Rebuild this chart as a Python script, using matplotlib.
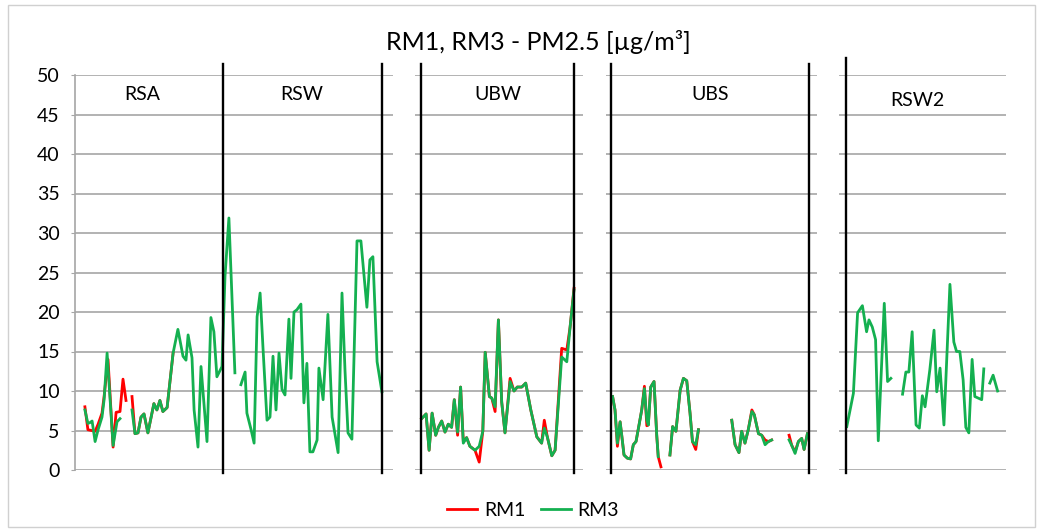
#!/usr/bin/env python3
"""RM1 / RM3 PM2.5 time series across five measurement periods."""

import numpy as np
import matplotlib
matplotlib.use("Agg")
import matplotlib.pyplot as plt
from matplotlib.patches import Rectangle

nan = np.nan

TITLE = "RM1, RM3 - PM2.5 [µg/m³]"
Y_TICKS = [0, 5, 10, 15, 20, 25, 30, 35, 40, 45, 50]

# --- panel 1: RSA + RSW -------------------------------------------------
P1_DAYS = [3.3, 4.3, 5, 5.7, 6.7, 7.7, 9, 9.7, 10.7, 12.7, 14, 15, 17,
           19, 20, 21, 22, 23, 24.3, 26.3, 27.3, 28.3, 29.3, 30.7, 32.7,
           34.3, 36, 37, 37.7, 39, 39.7, 41, 42, 44, 45.3, 46.3, 47.3, 49,
           50, 51.3, 53.3, 54.3,
           55.3, 56.7, 57.3, 58.7, 59.7, 60.7, 61.7, 62.7, 64, 65, 66, 67,
           68, 69, 70, 71.3, 72, 73, 74, 75.3, 76.3, 77.3, 78.3, 79.3, 80.7,
           81.3, 82.7, 84.3, 85.7, 87.7, 89, 90, 91, 92.3, 94, 95.3, 97.3,
           98.3, 99.3, 100.7, 102.3]
P1_RM3 = [7.6, 5.9, 6.0, 6.2, 3.6, 5.1, 6.7, 8.9, 14.8, 3.1, 6.1, 6.5, nan,
          7.6, 4.6, 4.7, 6.7, 7.1, 4.7, 8.4, 7.6, 8.8, 7.4, 7.9, 14.8,
          17.8, 14.4, 13.9, 17.1, 14.2, 7.6, 2.9, 13.1, 3.6, 19.3, 17.5, 11.8, 13.1,
          24.5, 31.9, 12.3, nan,
          10.8, 12.4, 7.2, 5.1, 3.4, 19.4, 22.4, 15.2, 6.3, 6.7, 14.4, 7.6,
          14.8, 10.2, 9.5, 19.1, 11.6, 20.0, 20.3, 21.0, 8.5, 13.5, 2.3, 2.3, 3.8,
          12.9, 8.9, 19.7, 6.7, 2.2, 22.4, 12.6, 4.7, 3.9, 29.0, 29.0, 20.6,
          26.6, 27.0, 13.7, 9.9]
P1_RM1_DAYS = [3.3, 4.3, 6.7, 7.7, 9, 9.7, 11, 12.7, 13.7, 15, 16, 17, 18,
               19, 20, 21, 22, 23, 24.3, 26.3, 27.3, 28.3, 29.3, 30.7, 32.7]
P1_RM1 = [8.0, 5.1, 4.9, 5.8, 7.2, 9.3, 14.0, 2.9, 7.3, 7.4, 11.5, 8.8, nan,
          9.3, 4.6, 4.7, 6.7, 7.1, 4.7, 8.4, 7.6, 8.8, 7.4, 7.9, 14.8]

# --- panel 2: UBW -------------------------------------------------------
P2_DAYS = [2.2, 3.7, 4.7, 5.7, 6.9, 7.8, 8.9, 10, 11.1, 12.2, 13.1, 14.2,
           15.2, 16.1, 17.2, 18.3, 20, 21.4, 22.6, 23.4, 24.8, 25.6, 26.7,
           27.8, 28.9, 30, 31.7, 33, 34.1, 35.6, 36.9, 38.6, 40.6, 42.2,
           43.1, 44.1, 45.6, 46.7, 48.9, 50.6, 51.7, 53]
P2_RM3 = [6.5, 7.1, 2.5, 7.2, 4.4, 5.4, 6.2, 4.8, 5.8, 5.4, 8.9, 4.8,
          10.5, 3.4, 4.1, 3.0, 2.5, 3.0, 4.9, 14.9, 9.3, 9.1, 8.0,
          19.0, 8.6, 4.7, 11.2, 10.0, 10.5, 10.5, 11.0, 7.6, 4.2, 3.4,
          5.3, 4.2, 1.8, 2.5, 14.3, 13.7, 18.1, 22.8]
P2_RM1 = [6.5, 7.1, 2.5, 7.2, 4.4, 5.4, 6.2, 4.8, 5.8, 5.4, 8.9, 4.4,
          10.5, 3.6, 4.1, 3.0, 2.5, 1.0, 4.9, 14.9, 9.3, 9.1, 7.4,
          19.0, 8.6, 4.7, 11.6, 10.0, 10.5, 10.5, 11.0, 7.6, 4.2, 3.4,
          6.3, 4.2, 1.8, 2.5, 15.4, 15.2, 18.1, 23.0]

# --- panel 3: UBS -------------------------------------------------------
P3_DAYS = [2.2, 3, 3.8, 4.7, 5.3, 6, 7.1, 8.2, 9.1, 10, 11.1, 11.9, 12.8,
           13.6, 14.1, 14.9, 16, 16.9, 17.4, 18.3, 19.8,
           21.3, 22.2, 23.3, 24.7, 25.8, 26.9, 28, 28.8, 29.9, 30.8, 36,
           41.9, 43, 44.3, 45.2, 46.3, 47.4, 48.6, 49.4, 50.8, 51.9, 53,
           54.1, 55.2, 58,
           61, 61.9, 63, 64.1, 65.2, 66, 67.1]
P3_RM3 = [9.3, 7.6, 3.4, 6.1, 4.2, 1.9, 1.5, 1.4, 3.2, 3.6, 5.9, 7.6, 10.3,
          6.3, 5.7, 10.5, 11.2, 4.4, 1.7, nan, nan,
          1.9, 5.5, 4.9, 10.1, 11.6, 11.3, 7.2, 3.6, 3.2, 5.1, nan,
          6.3, 3.2, 2.2, 4.9, 3.4, 5.1, 7.4, 7.0, 4.6, 4.4, 3.2,
          3.6, 3.8, nan,
          3.8, 3.1, 2.1, 3.6, 4.0, 2.6, 4.6]
P3_RM1 = [9.3, 7.6, 3.0, 6.1, 4.2, 1.9, 1.5, 1.4, 3.2, 3.6, 5.9, 7.6, 10.6,
          5.6, 5.7, 10.5, 11.2, 4.4, 1.7, 0.4, nan,
          1.9, 5.5, 4.9, 10.1, 11.6, 11.3, 7.2, 3.6, 2.6, 5.1, nan,
          6.3, 3.2, 2.2, 4.9, 3.4, 5.1, 7.6, 7.0, 4.6, 4.4, 3.8,
          3.6, 3.8, nan,
          4.4, 3.1, 2.3, 3.6, 4.0, 2.6, 4.6]

# --- panel 4: RSW2 ------------------------------------------------------
P4_DAYS = [2.6, 4.8, 6.2, 7.8, 9.2, 10, 11.1, 12.2, 13.1, 15.1, 16.2, 17.3,
           19.3,
           21.2, 22.3, 23.3, 24.4, 25.7, 26.8, 27.8, 28.7, 30.3, 31.7, 32.6,
           33.7, 35, 37, 38.3, 39.2, 40.3, 41.4, 42.3, 43.3, 44.4, 45.3,
           47.6, 48.3, 49.3,
           50.3, 51.4, 52.9]
P4_RM3 = [5.5, 9.7, 19.9, 20.8, 17.5, 19.0, 18.1, 16.5, 3.7, 21.1, 11.2, 11.6,
          nan,
          9.6, 12.4, 12.4, 17.5, 5.7, 5.3, 9.4, 8.0, 12.7, 17.7, 9.9,
          12.9, 5.7, 23.5, 16.2, 15.0, 15.0, 11.4, 5.4, 4.7, 14.0, 9.3,
          8.9, 12.8, nan,
          11.0, 12.0, 10.0]

# period names, where they sit and where each period starts/ends
P1_LABELS = ["RSA", "RSW"]
P1_LABEL_DAYS = [22.3, 75.7]
P1_BOUNDS = [49.3, 102.3]
P2_LABELS, P2_LABEL_DAYS, P2_BOUNDS = ["UBW"], [27.7], [2.0, 53.0]
P3_LABELS, P3_LABEL_DAYS, P3_BOUNDS = ["UBS"], [34.7], [1.7, 67.7]
P4_LABELS, P4_LABEL_DAYS, P4_BOUNDS = ["RSW2"], [26.3], [2.3]

RED = "#ff0000"
GREEN = "#14b050"
GRID = "#a6a6a6"
FONT = "Lato"
FS = 14


def draw_panel(fig, rect, xmax, days, rm3, rm1_days, rm1, labels, label_days,
               bounds, label_y=47.5, line_top=51.4, first=False):
    ax = fig.add_axes(rect)
    ax.set_xlim(0, xmax)
    ax.set_ylim(0, 50)
    ax.set_yticks(Y_TICKS)
    ax.yaxis.grid(True, color=GRID, lw=1.2)
    ax.set_axisbelow(True)
    ax.set_xticks([])
    for side in ["top", "right", "left", "bottom"]:
        ax.spines[side].set_visible(False)
    if first:
        ax.spines["left"].set_visible(True)
        ax.spines["left"].set_color(GRID)
        ax.spines["left"].set_linewidth(1.2)
        ax.tick_params(axis="y", length=3, color=GRID, labelsize=FS, pad=8)
        for t in ax.get_yticklabels():
            t.set_fontfamily(FONT)
    else:
        ax.tick_params(axis="y", length=0, labelleft=False)

    if rm1 is not None:
        ax.plot(rm1_days, rm1, color=RED, lw=2.0, label="RM1")
    ax.plot(days, rm3, color=GREEN, lw=2.0, label="RM3")

    for b in bounds:
        ax.plot([b, b], [-0.4, line_top], color="black", lw=1.7,
                clip_on=False, zorder=5)
    for name, d in zip(labels, label_days):
        ax.text(d, label_y, name, ha="center", va="center", fontsize=FS,
                fontfamily=FONT)
    return ax


def main():
    fig = plt.figure(figsize=(10.41, 5.31), dpi=100)
    fig.patches.append(Rectangle((0.008, 0.008), 0.986, 0.982,
                                 transform=fig.transFigure, fill=False,
                                 edgecolor="#d0d0d0", lw=1.0))

    bottom, height = 1 - 470 / 531, 395 / 531
    ax1 = draw_panel(fig, [75 / 1041, bottom, 318 / 1041, height], 106,
                     P1_DAYS, P1_RM3, P1_RM1_DAYS, P1_RM1,
                     P1_LABELS, P1_LABEL_DAYS, P1_BOUNDS, first=True)
    draw_panel(fig, [415 / 1041, bottom, 168 / 1041, height], 56,
               P2_DAYS, P2_RM3, P2_DAYS, P2_RM1,
               P2_LABELS, P2_LABEL_DAYS, P2_BOUNDS)
    draw_panel(fig, [606 / 1041, bottom, 211 / 1041, height], 70.3,
               P3_DAYS, P3_RM3, P3_DAYS, P3_RM1,
               P3_LABELS, P3_LABEL_DAYS, P3_BOUNDS)
    draw_panel(fig, [839 / 1041, bottom, 167 / 1041, height], 55.7,
               P4_DAYS, P4_RM3, None, None,
               P4_LABELS, P4_LABEL_DAYS, P4_BOUNDS, label_y=46.8,
               line_top=52.2)

    fig.text(0.517, 1 - 42 / 531, TITLE, ha="center", va="center",
             fontsize=18, fontfamily=FONT)

    handles, names = ax1.get_legend_handles_labels()
    fig.legend(handles, names, loc="center", ncol=2,
               bbox_to_anchor=(0.512, 1 - 510 / 531), frameon=False,
               prop={"family": FONT, "size": FS}, handlelength=1.55,
               handletextpad=0.35, columnspacing=0.8)

    plt.savefig("out.png", dpi=100, facecolor="white")
    plt.close()


if __name__ == "__main__":
    main()
